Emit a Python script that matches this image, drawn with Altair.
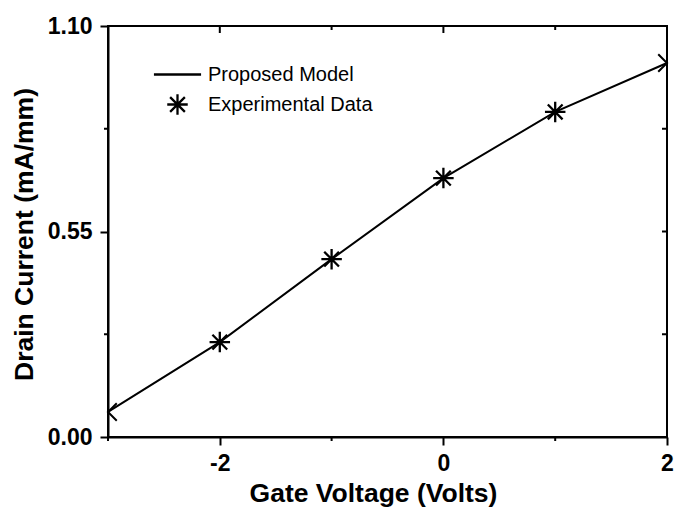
import altair as alt
import pandas as pd

# Gate voltage sweep (V) and drain current (mA/mm)
gate_voltage = [-3, -2, -1, 0, 1, 2]
model_current = [0.067, 0.254, 0.476, 0.693, 0.870, 1.001]

exp_voltage = [-2, -1, 0, 1]
exp_current = [0.254, 0.476, 0.693, 0.870]

series_names = ["Proposed Model", "Experimental Data"]

# Axis tick positions
x_major = [-2, 0, 2]
x_minor = [-3, -1, 1]
y_major = [0.0, 0.55, 1.1]
y_minor = [0.275, 0.825]
top_major = [-2, 0]
top_minor = [-1, 1]
right_ticks = [0.275, 0.55, 0.825]

W, H = 559, 411
FONT = "Liberation Sans"

STAR = "M0,-1L0,1M-1,0L1,0M-0.72,-0.72L0.72,0.72M-0.72,0.72L0.72,-0.72"
LEGEND_LINE = "M-2.3,0L2.3,0"
CAP_LEFT = "M0.95,-0.95L0,0L0.95,0.95"
CAP_RIGHT = "M-0.95,-0.95L0,0L-0.95,0.95"

model_df = pd.DataFrame({"v": gate_voltage, "i": model_current})
exp_df = pd.DataFrame({"v": exp_voltage, "i": exp_current,
                       "series": [series_names[1]] * len(exp_voltage)})
left_cap = pd.DataFrame({"v": [gate_voltage[0]], "i": [model_current[0]]})
right_cap = pd.DataFrame({"v": [gate_voltage[-1]], "i": [model_current[-1]]})

x_scale = alt.Scale(domain=[-3, 2], nice=False, zero=False)
y_scale = alt.Scale(domain=[0, 1.1], nice=False, zero=True)

x_axis = alt.Axis(
    values=x_major, format="d", labelExpr="toString(datum.value)",
    tickSize=8, tickWidth=2, tickColor="black", domainColor="black", domainWidth=2,
    grid=False, labelPadding=7, labelFontSize=23, labelFontWeight="bold",
    labelFont=FONT, labelColor="black", labelFlush=False,
    title="Gate Voltage (Volts)", titleFont=FONT, titleFontSize=26.5,
    titleFontWeight="bold", titleColor="black", titlePadding=5, titleX=265,
)
y_axis = alt.Axis(
    values=y_major, format=".2f",
    tickSize=8, tickWidth=2, tickColor="black", domainColor="black", domainWidth=2,
    grid=False, labelPadding=8, labelFontSize=23, labelFontWeight="bold",
    labelFont=FONT, labelColor="black", labelFlush=False,
    title="Drain Current (mA/mm)", titleFont=FONT, titleFontSize=26.5,
    titleFontWeight="bold", titleColor="black", titlePadding=9, titleY=208,
)

X = alt.X("v:Q", scale=x_scale, axis=x_axis)
Y = alt.Y("i:Q", scale=y_scale, axis=y_axis)

line = alt.Chart(model_df).mark_line(color="black", strokeWidth=2).encode(x=X, y=Y)

caps_l = alt.Chart(left_cap).mark_point(
    shape=CAP_LEFT, size=340, filled=False, color="black", strokeWidth=2, opacity=1
).encode(x="v:Q", y="i:Q")
caps_r = alt.Chart(right_cap).mark_point(
    shape=CAP_RIGHT, size=340, filled=False, color="black", strokeWidth=2, opacity=1
).encode(x="v:Q", y="i:Q")

stars = alt.Chart(exp_df).mark_point(
    filled=False, color="black", strokeWidth=2.3, opacity=1, size=420
).encode(
    x="v:Q", y="i:Q",
    shape=alt.Shape(
        "series:N",
        scale=alt.Scale(domain=series_names, range=[LEGEND_LINE, STAR]),
        legend=alt.Legend(
            title=None, orient="none", legendX=58, legendY=37, padding=0,
            symbolSize=420, symbolStrokeWidth=2.3, symbolStrokeColor="black",
            symbolFillColor="transparent", symbolOpacity=1,
            labelFont=FONT, labelFontSize=20, labelColor="black",
            labelOffset=19, rowPadding=4, labelLimit=400,
        ),
    ),
)

# Minor ticks on the bottom/left axes and inward ticks on the top/right frame
bottom_minor = alt.Chart(pd.DataFrame({"v": x_minor})).mark_rule(
    color="black", strokeWidth=2
).encode(x="v:Q", y=alt.value(H), y2=alt.value(H + 4))
left_minor = alt.Chart(pd.DataFrame({"i": y_minor})).mark_rule(
    color="black", strokeWidth=2
).encode(y="i:Q", x=alt.value(0), x2=alt.value(-4))
top_maj = alt.Chart(pd.DataFrame({"v": top_major})).mark_rule(
    color="black", strokeWidth=2
).encode(x="v:Q", y=alt.value(0), y2=alt.value(7))
top_min = alt.Chart(pd.DataFrame({"v": top_minor})).mark_rule(
    color="black", strokeWidth=2
).encode(x="v:Q", y=alt.value(0), y2=alt.value(4))
right_t = alt.Chart(pd.DataFrame({"i": right_ticks})).mark_rule(
    color="black", strokeWidth=2
).encode(y="i:Q", x=alt.value(W), x2=alt.value(W - 5))

chart = alt.layer(
    line, caps_l, caps_r, stars, bottom_minor, left_minor, top_maj, top_min, right_t
).properties(
    width=W, height=H,
    autosize=alt.AutoSizeParams(type="none"),
    padding={"left": 108, "top": 26, "right": 8, "bottom": 70},
    background="white",
).configure_view(stroke="black", strokeWidth=2)

chart.save("out.html", embed_options={"renderer": "svg", "actions": False})
